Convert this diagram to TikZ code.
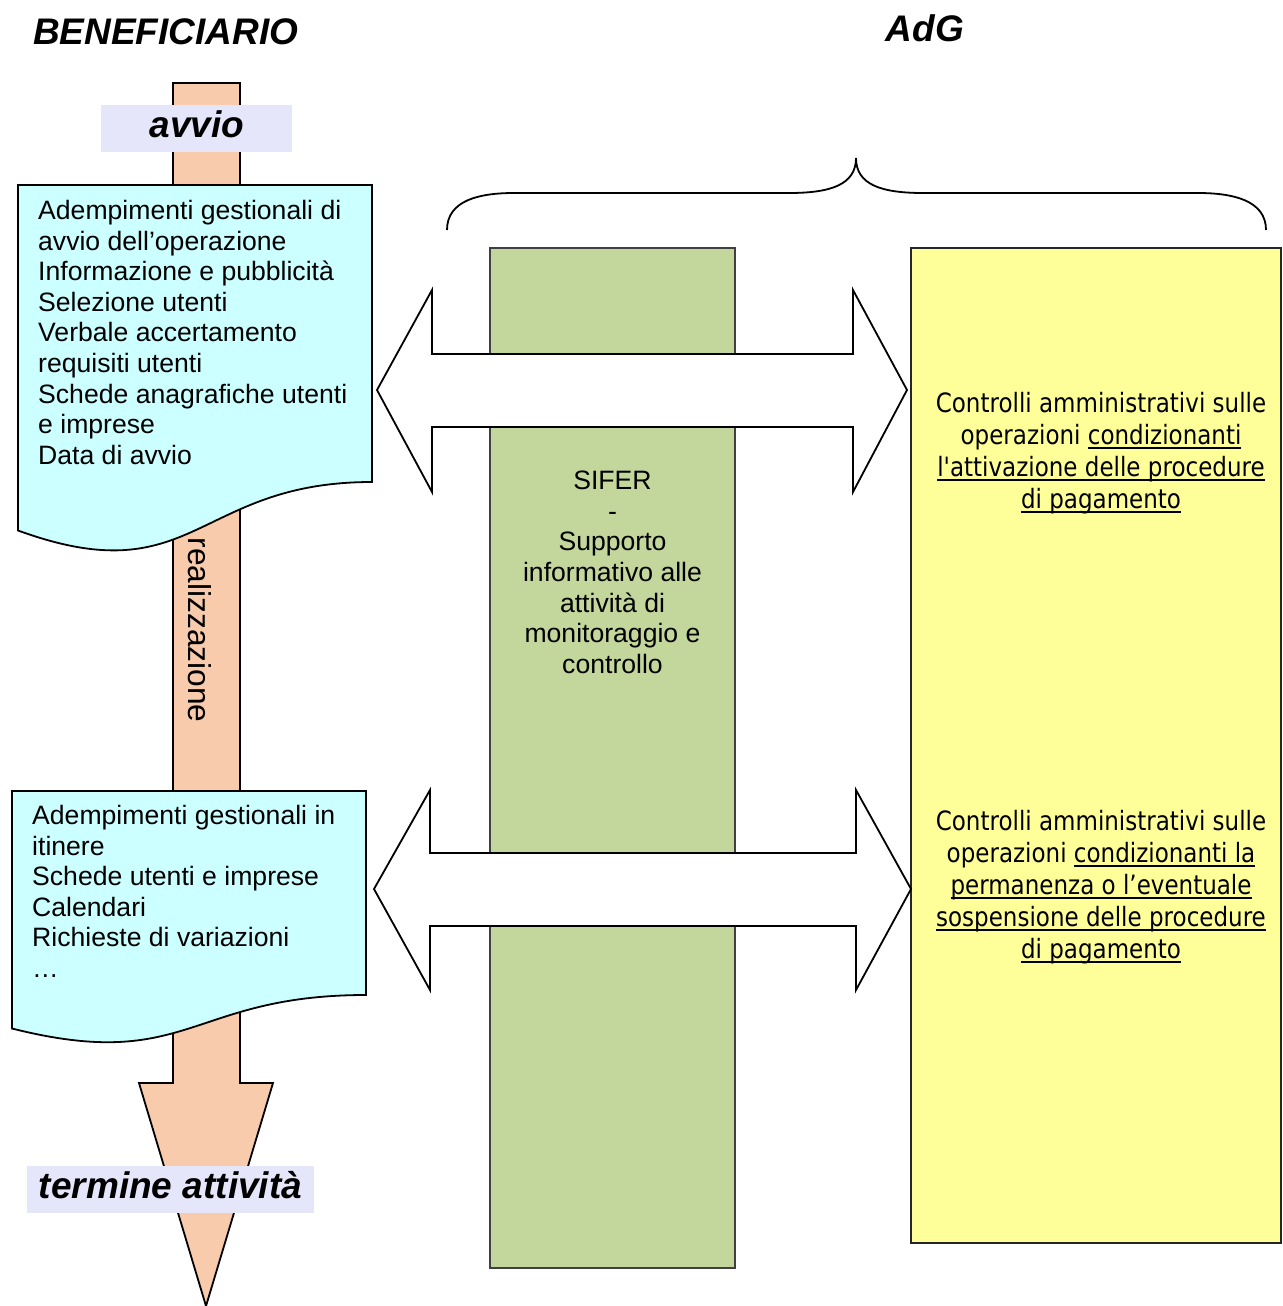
\documentclass[tikz,border=0pt]{standalone}
\usepackage{fontspec}
\setmainfont{Liberation Sans}
\newfontfamily\tahoma{DejaVu Sans}[FakeStretch=0.865,Ligatures=TeXOff]
\newcommand\ulx[1]{\setbox0\hbox{#1}\rlap{\rule[-4.5pt]{\wd0}{1.6pt}}\box0}
\definecolor{peach}{HTML}{F8CBAD}
\definecolor{lavend}{HTML}{E6E6FA}
\definecolor{docfill}{HTML}{CCFFFF}
\definecolor{sifer}{HTML}{C3D69B}
\definecolor{adgfill}{HTML}{FFFF99}
\tikzset{
  shapeline/.style={draw=black, line width=1.8pt, line join=miter},
  bodytext/.style={font=\fontsize{26.6}{30.6}\selectfont, inner sep=0pt},
  yeltext/.style={font=\tahoma\fontsize{26.6}{32}\selectfont, inner sep=0pt, align=center},
  titletext/.style={font=\bfseries\itshape\fontsize{37}{40}\selectfont, inner sep=0pt},
  labelbox/.style={fill=lavend, draw=none},
}
\begin{document}
\begin{tikzpicture}[x=1pt,y=-1pt]
\useasboundingbox (0,0) rectangle (1282,1306);
\fill[white] (0,0) rectangle (1282,1306);

% titles
\node[titletext, anchor=base west] (tben) at (33,45) {BENEFICIARIO};
\node[titletext, anchor=base] (tadg) at (925,42) {AdG};

% timeline arrow
\draw[shapeline, fill=peach] (173,83) -- (240,83) -- (240,1083) -- (273,1083) -- (206,1306) -- (139,1083) -- (173,1083) -- cycle;

% avvio label
\fill[labelbox] (101,105) rectangle (292,152);
\node[titletext, anchor=base] (avvio) at (197,137) {avvio};

% realizzazione
\node[bodytext, rotate=-90, font=\fontsize{31.7}{34}\selectfont] (real) at (200,630) {realizzazione};

% document box 1
\draw[shapeline, fill=docfill] (18,185) -- (372,185) -- (372,482)
  .. controls (195,482) and (195,595) .. (18,530.5) -- cycle;
\node[bodytext, anchor=north west, align=left] (doc1) at (38,200) {%
Adempimenti gestionali di\\
avvio dell’operazione\\
Informazione e pubblicità\\
Selezione utenti\\
Verbale accertamento\\
requisiti utenti\\
Schede anagrafiche utenti\\
e imprese\\
Data di avvio};

% document box 2
\draw[shapeline, fill=docfill] (12,791) -- (366,791) -- (366,995)
  .. controls (189,995) and (189,1073) .. (12,1028.5) -- cycle;
\node[bodytext, anchor=north west, align=left] (doc2) at (32,805) {%
Adempimenti gestionali in\\
itinere\\
Schede utenti e imprese\\
Calendari\\
Richieste di variazioni\\
…};

% termine label
\fill[labelbox] (27,1166) rectangle (314,1213);
\node[titletext, anchor=base] (term) at (170.5,1198) {termine attività};

% SIFER column
\draw[draw=black!75, line width=1.5pt, fill=sifer] (490,248) rectangle (735,1268);
\node[bodytext, anchor=north, align=center] (sifertxt) at (612.5,471) {%
SIFER\\
-\\
Supporto\\
informativo alle\\
attività di\\
monitoraggio e\\
controllo};

% AdG box
\draw[draw=black!85, line width=2pt, fill=adgfill] (911,248) rectangle (1281,1243);
\node[yeltext, anchor=north] (adg1) at (1101,392) {%
Controlli amministrativi sulle\\
operazioni \ulx{condizionanti}\\
\ulx{l'attivazione delle procedure}\\
\ulx{di pagamento}};
\node[yeltext, anchor=north] (adg2) at (1101,810) {%
Controlli amministrativi sulle\\
operazioni \ulx{condizionanti la}\\
\ulx{permanenza o l’eventuale}\\
\ulx{sospensione delle procedure}\\
\ulx{di pagamento}};

% double arrows
\draw[shapeline, fill=white] (377,390) -- (432,290) -- (432,354) -- (853,354) -- (853,290)
  -- (907,390) -- (853,492) -- (853,427) -- (432,427) -- (432,492) -- cycle;
\draw[shapeline, fill=white] (374,889) -- (430,790) -- (430,853) -- (856,853) -- (856,790)
  -- (911,889) -- (856,990) -- (856,926) -- (430,926) -- (430,990) -- cycle;

% brace
\draw[line width=1.8pt] (447,230) .. controls (447,200) and (480,193) .. (514,193)
  -- (789,193) .. controls (830,193) and (856,185) .. (856,158)
  .. controls (856,185) and (882,193) .. (923,193)
  -- (1198,193) .. controls (1232,193) and (1266,200) .. (1266,230);
\end{tikzpicture}
\end{document}
